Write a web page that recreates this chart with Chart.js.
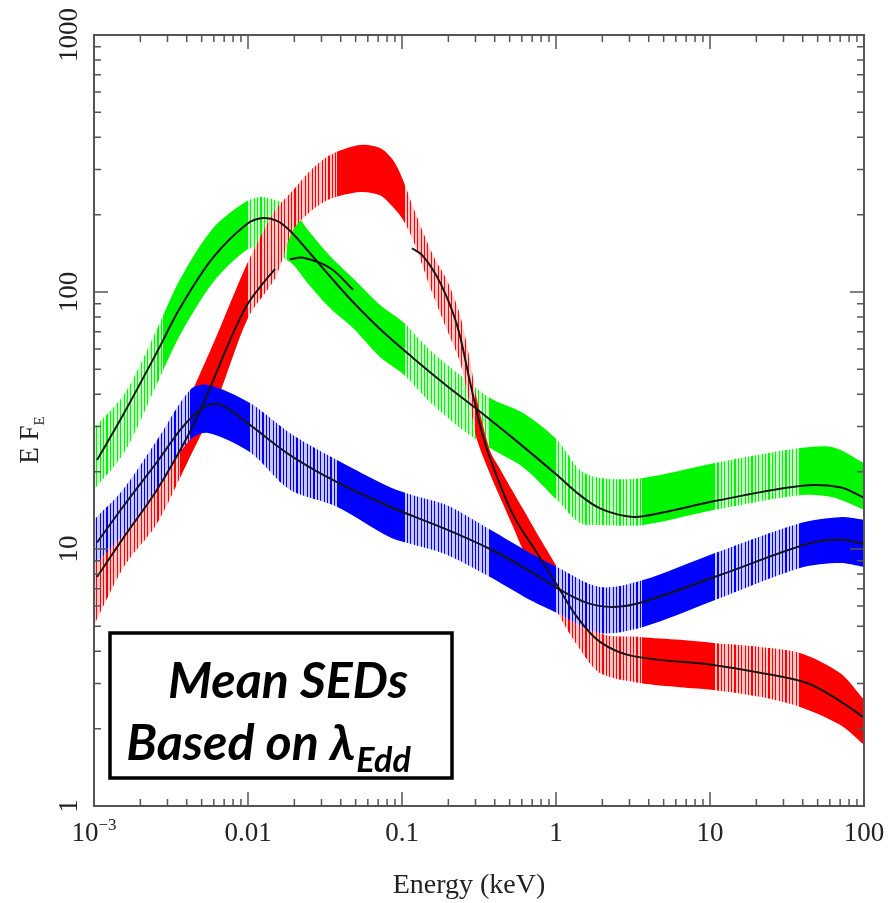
<!DOCTYPE html>
<html>
<head>
<meta charset="utf-8">
<script src="https://cdn.jsdelivr.net/npm/chart.js@4.4.0/dist/chart.umd.min.js"></script>
<style>
  html, body { margin: 0; padding: 0; background: #fff; }
  #wrap { position: relative; width: 888px; height: 903px; }
</style>
</head>
<body>
<div id="wrap"><canvas id="sedChart"></canvas></div>
<script>
// Energies in keV, E F_E values

// red band (upper / lower edge of the error-bar band)
const redE  = [0.001, 0.00159, 0.00253, 0.00396, 0.00629, 0.0100, 0.0150, 0.0196, 0.0253, 0.0341, 0.0534, 0.0720, 0.0874, 0.1015, 0.118, 0.159, 0.196, 0.238, 0.276, 0.307, 0.373, 0.433, 0.526, 0.611, 0.753, 1.015, 1.37, 1.93, 3.51, 6.39, 10.5, 21.1, 38.4, 69.9, 100];
const redHi = [8.66, 13.6, 20.3, 36.3, 68.0, 131, 208, 249, 296, 341, 373, 363, 326, 273, 214, 139, 111, 81.4, 54.4, 38.0, 24.1, 20.5, 16.7, 14.3, 11.5, 8.51, 6.17, 4.71, 4.55, 4.43, 4.31, 4.16, 3.94, 3.29, 2.59];
const redLo = [5.06, 8.66, 12.4, 21.2, 38.0, 79.2, 113, 174, 205, 230, 245, 238, 214, 191, 159, 97.3, 71.1, 53.4, 36.3, 26.6, 19.6, 15.9, 12.2, 9.91, 7.92, 5.69, 4.23, 3.29, 3.01, 2.90, 2.83, 2.66, 2.43, 2.07, 1.73];

// green band
const greenE  = [0.001, 0.00159, 0.00257, 0.00362, 0.00593, 0.00985, 0.0125, 0.0187, 0.0242, 0.0341, 0.0481, 0.0720, 0.1015, 0.152, 0.238, 0.373, 0.611, 1.015, 1.432, 1.931, 3.672, 10.78, 38.4, 62.9, 100];
const greenHi = [29.6, 40.5, 72.0, 112, 177, 226, 234, 214, 176, 138, 113, 89.0, 76.4, 59.5, 47.5, 38.7, 33.8, 26.6, 20.3, 18.9, 18.9, 21.6, 24.7, 24.9, 21.6];
const greenLo = [17.0, 24.0, 44.0, 68.0, 109, 146, 146, 131, 109, 86.6, 72.4, 55.9, 48.0, 37.3, 29.6, 24.7, 20.8, 15.5, 12.6, 12.4, 12.4, 14.2, 16.2, 15.9, 14.2];

// blue band
const blueE  = [0.001, 0.00154, 0.00257, 0.0042, 0.0055, 0.0103, 0.0187, 0.0378, 0.0836, 0.118, 0.196, 0.373, 0.678, 1.015, 1.931, 3.672, 10.78, 38.4, 69.9, 100];
const blueHi = [13.0, 17.0, 26.6, 41.6, 43.5, 37.0, 28.3, 22.2, 17.4, 16.2, 14.8, 11.9, 9.65, 8.51, 7.11, 7.57, 9.65, 12.6, 13.3, 13.0];
const blueLo = [8.66, 11.3, 17.3, 26.6, 28.3, 23.8, 17.0, 14.6, 11.1, 10.4, 9.48, 7.78, 6.33, 5.64, 4.71, 4.97, 6.33, 8.44, 8.82, 8.51];

// black model curves
const redModelAE = [0.001046, 0.001543, 0.002565, 0.0042, 0.00566, 0.00764, 0.00985, 0.0125, 0.0150];
const redModelAF = [7.78, 11.0, 17.0, 28.6, 42.3, 65.0, 89.0, 108, 123];
const redModelBE = [0.0187, 0.0228, 0.0341, 0.0481];
const redModelBF = [134, 136, 124, 102];
const redModelCE = [0.116, 0.137, 0.1765, 0.2276, 0.2764, 0.3209, 0.3727, 0.5257, 0.7525, 1.015, 1.369, 1.931, 3.162, 10.46, 21.12, 42.66, 69.87, 98.5];
const redModelCF = [148, 138, 109, 74.4, 44.7, 30.4, 22.6, 13.6, 9.65, 7.24, 5.44, 4.35, 3.83, 3.54, 3.30, 3.01, 2.56, 2.22];

const greenModelE = [0.001046, 0.001543, 0.002565, 0.003618, 0.005926, 0.009851, 0.01252, 0.01543, 0.01874, 0.02415, 0.03407, 0.04805, 0.07196, 0.1179, 0.1959, 0.3069, 0.5257, 1.015, 1.432, 1.931, 2.891, 3.672, 11.61, 38.41, 69.87, 98.5];
const greenModelF = [22.2, 33.2, 58.4, 86.6, 136, 184, 194, 189, 173, 146, 115, 91.4, 71.8, 55.4, 43.1, 35.0, 27.0, 19.4, 16.2, 14.4, 13.4, 13.4, 15.5, 17.6, 17.4, 15.9];

const blueModelE = [0.001046, 0.001543, 0.002565, 0.003618, 0.004527, 0.005497, 0.006779, 0.0103, 0.01874, 0.03784, 0.08356, 0.1959, 0.3727, 0.678, 1.015, 1.59, 2.345, 3.672, 11.61, 42.66, 69.87, 98.5];
const blueModelF = [10.6, 14.6, 21.8, 29.0, 33.5, 36.3, 36.3, 30.4, 23.2, 18.2, 14.6, 11.9, 10.0, 8.21, 7.05, 6.17, 5.95, 6.22, 7.92, 10.46, 10.9, 10.5];

// energy ranges where the error bars are sparse (striped look)
const redSparse   = [[0.001, 0.0036], [0.0100, 0.0378], [0.104, 0.30], [1.0, 3.6], [10.8, 38]];
const greenSparse = [[0.001, 0.0028], [0.0100, 0.0179], [0.104, 0.373], [1.0, 3.6], [10.8, 38]];
const blueSparse  = [[0.001, 0.0042], [0.0103, 0.0378], [0.104, 0.373], [1.0, 3.6], [10.8, 38]];

// axis tick labels
const xTickValues = [0.001, 0.01, 0.1, 1, 10, 100];
const xTickLabels = ['10^-3', '0.01', '0.1', '1', '10', '100'];
const yTickValues = [1, 10, 100, 1000];
const yTickLabels = ['1', '10', '100', '1000'];

const pts = (xs, ys) => xs.map((x, i) => ({x: x, y: ys[i]}));

// solid colour with stripes in the sparse ranges
function bandPaint(full, pale, sparse) {
    return function(context) {
        const chart = context.chart;
        const area = chart.chartArea;
        if (!area || !chart.scales.x) return full;
        const xs = chart.scales.x;
        const w = area.right - area.left;
        const at = px => Math.min(1, Math.max(0, (px - area.left) / w));
        const g = chart.ctx.createLinearGradient(area.left, 0, area.right, 0);
        g.addColorStop(0, full);
        sparse.forEach(([a, b]) => {
            const p0 = xs.getPixelForValue(a), p1 = xs.getPixelForValue(b);
            g.addColorStop(at(p0), full);
            for (let p = p0; p < p1; p += 3.4) {
                const q = Math.min(p + 2.3, p1);
                const r = Math.min(p + 3.4, p1);
                g.addColorStop(at(p), pale);
                g.addColorStop(at(q), pale);
                g.addColorStop(at(q), full);
                g.addColorStop(at(r), full);
            }
        });
        g.addColorStop(1, full);
        return g;
    };
}

function band(xs, hi, lo, full, pale, sparse, order) {
    return [
        {
            data: pts(xs, hi), fill: '+1', order: order,
            backgroundColor: bandPaint(full, pale, sparse),
            borderWidth: 0, borderColor: 'transparent', pointRadius: 0,
            tension: 0.3
        },
        {
            data: pts(xs, lo), fill: false, order: order,
            borderWidth: 0, borderColor: 'transparent', pointRadius: 0,
            tension: 0.3
        }
    ];
}

function model(xs, ys) {
    return {
        data: pts(xs, ys), fill: false, order: 0,
        borderColor: '#151515', borderWidth: 2, pointRadius: 0,
        tension: 0.35
    };
}

function logTicks(min, max) {
    const out = [];
    for (let e = Math.floor(Math.log10(min)); e <= Math.ceil(Math.log10(max)); e++) {
        for (let m = 1; m < 10; m++) {
            const v = m * Math.pow(10, e);
            if (v >= min * 0.999 && v <= max * 1.001) out.push({v: v, major: m === 1});
        }
    }
    return out;
}

const frameAndLabels = {
    id: 'frameAndLabels',
    afterDatasetsDraw(chart) {
        const {ctx, chartArea: a} = chart;
        const xs = chart.scales.x, ys = chart.scales.y;
        ctx.save();

        // inward ticks on all four sides
        ctx.strokeStyle = '#555';
        ctx.lineWidth = 1.5;
        ctx.beginPath();
        logTicks(xs.min, xs.max).forEach(t => {
            const px = xs.getPixelForValue(t.v);
            const len = t.major ? 14 : 7;
            ctx.moveTo(px, a.bottom); ctx.lineTo(px, a.bottom - len);
            ctx.moveTo(px, a.top); ctx.lineTo(px, a.top + len);
        });
        logTicks(ys.min, ys.max).forEach(t => {
            const py = ys.getPixelForValue(t.v);
            const len = t.major ? 14 : 7;
            ctx.moveTo(a.left, py); ctx.lineTo(a.left + len, py);
            ctx.moveTo(a.right, py); ctx.lineTo(a.right - len, py);
        });
        ctx.stroke();
        ctx.lineWidth = 2;
        ctx.strokeRect(a.left, a.top, a.right - a.left, a.bottom - a.top);

        // tick labels
        ctx.fillStyle = '#222';
        ctx.textBaseline = 'alphabetic';
        const big = '27px "Liberation Serif", "Times New Roman", serif';
        const small = '17px "Liberation Serif", "Times New Roman", serif';
        xTickValues.forEach((v, i) => {
            const px = xs.getPixelForValue(v);
            const parts = xTickLabels[i].split('^');
            ctx.font = big;
            const w0 = ctx.measureText(parts[0]).width;
            let w1 = 0;
            const sup = parts[1] ? parts[1].replace('-', '\u2212') : '';
            if (sup) { ctx.font = small; w1 = ctx.measureText(sup).width; }
            const x0 = px - (w0 + w1) / 2;
            ctx.font = big;
            ctx.textAlign = 'left';
            ctx.fillText(parts[0], x0, 841);
            if (sup) { ctx.font = small; ctx.fillText(sup, x0 + w0, 830); }
        });
        ctx.font = big;
        ctx.textAlign = 'center';
        yTickValues.forEach((v, i) => {
            const py = ys.getPixelForValue(v);
            ctx.save();
            ctx.translate(77, py);
            ctx.rotate(-Math.PI / 2);
            ctx.fillText(yTickLabels[i], 0, 0);
            ctx.restore();
        });

        // axis titles
        ctx.font = '28px "Liberation Serif", "Times New Roman", serif';
        ctx.textAlign = 'center';
        ctx.fillText('Energy (keV)', 469, 893);

        ctx.save();
        ctx.translate(38, 440);
        ctx.rotate(-Math.PI / 2);
        ctx.font = '27px "Liberation Serif", "Times New Roman", serif';
        const wEF = ctx.measureText('E F').width;
        ctx.font = '15px "Liberation Serif", "Times New Roman", serif';
        const wSub = ctx.measureText('E').width;
        ctx.textAlign = 'left';
        ctx.font = '27px "Liberation Serif", "Times New Roman", serif';
        ctx.fillText('E F', -(wEF + wSub) / 2, 0);
        ctx.font = '15px "Liberation Serif", "Times New Roman", serif';
        ctx.fillText('E', -(wEF + wSub) / 2 + wEF, 6);
        ctx.restore();

        // annotation box
        ctx.fillStyle = '#fff';
        ctx.fillRect(110, 633, 342, 145);
        ctx.strokeStyle = '#000';
        ctx.lineWidth = 3.5;
        ctx.strokeRect(110, 633, 342, 145);

        const fam = 'Lato, "Open Sans", sans-serif';
        ctx.font = 'italic bold 46px ' + fam;
        const fs = 46 * 240 / ctx.measureText('Mean SEDs').width;
        ctx.fillStyle = '#000';
        ctx.font = 'italic bold ' + fs + 'px ' + fam;
        ctx.textAlign = 'center';
        ctx.fillText('Mean SEDs', 288, 698);

        ctx.textAlign = 'left';
        const l2 = 'Based on \u03bb';
        const w2 = ctx.measureText(l2).width;
        ctx.font = 'italic bold ' + (fs * 0.68) + 'px ' + fam;
        const w3 = ctx.measureText('Edd').width;
        const x2 = 268 - (w2 + w3) / 2;
        ctx.font = 'italic bold ' + fs + 'px ' + fam;
        ctx.fillText(l2, x2, 760);
        ctx.font = 'italic bold ' + (fs * 0.68) + 'px ' + fam;
        ctx.fillText('Edd', x2 + w2 + 1, 772);

        ctx.restore();
    }
};

new Chart(document.getElementById('sedChart'), {
    type: 'line',
    data: {
        datasets: [
            model(redModelAE, redModelAF),
            model(redModelBE, redModelBF),
            model(redModelCE, redModelCF),
            model(greenModelE, greenModelF),
            model(blueModelE, blueModelF),
            ...band(blueE, blueHi, blueLo, '#0000ff', '#c8c8ff', blueSparse, 1),
            ...band(redE, redHi, redLo, '#ff0000', '#ffc8c8', redSparse, 2),
            ...band(greenE, greenHi, greenLo, '#00f500', '#c8ffc8', greenSparse, 3)
        ]
    },
    options: {
        responsive: true,
        maintainAspectRatio: false,
        animation: false,
        events: [],
        layout: { padding: { left: 94, right: 24, top: 35, bottom: 97 } },
        plugins: { legend: { display: false }, tooltip: { enabled: false } },
        scales: {
            x: { type: 'logarithmic', min: 0.001, max: 100, display: false },
            y: { type: 'logarithmic', min: 1, max: 1000, display: false }
        }
    },
    plugins: [frameAndLabels]
});
</script>
</body>
</html>
